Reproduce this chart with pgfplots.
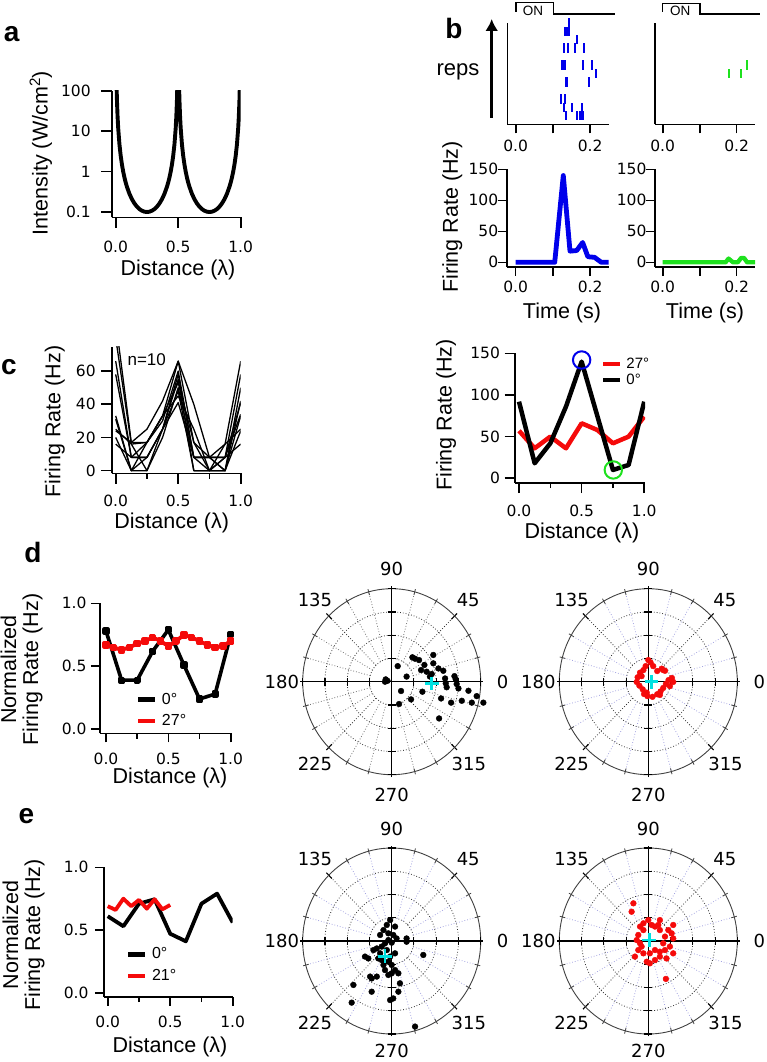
\documentclass[border=0pt]{standalone}
\usepackage{pgfplots}
\pgfplotsset{compat=1.18}
\usepackage{pgfplotstable}
\usepackage{fontspec}
\setmainfont{Liberation Sans}
\newfontfamily\dvs{DejaVu Sans}
\usetikzlibrary{arrows.meta}
\definecolor{pblue}{RGB}{0,0,235}
\definecolor{pgreen}{RGB}{30,225,30}
\definecolor{pred}{RGB}{245,10,10}
\definecolor{pcyan}{RGB}{0,225,225}
\definecolor{plav}{RGB}{165,165,225}
\newcommand\tkf{\dvs\fontsize{15.5}{17}\selectfont}
\newcommand\lbf{\fontsize{21.5}{22}\selectfont}
\newcommand\lgf{\fontsize{16}{17}\selectfont}
\newcommand\pnf{\fontsize{28}{30}\selectfont\bfseries}
\newcommand\plf{\dvs\fontsize{18}{19}\selectfont}

\pgfplotsset{
 igor/.style={
  scale only axis, anchor=south west,
  axis lines=left, axis line style={-, line width=1.6pt},
  tick align=outside, major tick length=9pt, minor tick length=5.5pt,
  tick style={line width=1.6pt, black},
  tick label style={font=\tkf},
  label style={font=\lbf},
  xlabel style={anchor=center},
  ylabel style={anchor=center},
  clip mode=individual,
  every axis plot/.append style={line join=round},
 },
 polar/.style={scale only axis, anchor=south west, width=178pt, height=186pt,
  xmin=-4, xmax=4, ymin=-4, ymax=4, hide axis, clip=false},
}

\newcommand\polargrid[2]{%
 \pgfplotsinvokeforeach{15,30,60,75,105,120,150,165,195,210,240,255,285,300,330,345}{%
   \draw[#1, dotted, line width=0.8pt] (axis cs:{cos(##1)},{sin(##1)}) -- (axis cs:{4*cos(##1)},{4*sin(##1)});
   \draw[black!75, line width=0.8pt] (axis cs:{3.86*cos(##1)},{3.86*sin(##1)}) -- (axis cs:{4.12*cos(##1)},{4.12*sin(##1)});
 }%
 \pgfplotsinvokeforeach{45,135,225,315}{%
   \draw[black!80, dotted, line width=0.8pt] (axis cs:{cos(##1)},{sin(##1)}) -- (axis cs:{4*cos(##1)},{4*sin(##1)});
   \draw[black, line width=1.1pt] (axis cs:{3.8*cos(##1)},{3.8*sin(##1)}) -- (axis cs:{4.15*cos(##1)},{4.15*sin(##1)});
 }%
 \draw[black!80, dotted, line width=0.8pt] (axis cs:0,0) ellipse [x radius=22.25pt, y radius=23.25pt];
 \draw[black!80, dotted, line width=0.8pt] (axis cs:0,0) ellipse [x radius=44.5pt, y radius=46.5pt];
 \draw[black!80, dotted, line width=0.8pt] (axis cs:0,0) ellipse [x radius=66.75pt, y radius=69.75pt];
 \draw[black!75, line width=0.9pt] (axis cs:0,0) ellipse [x radius=89pt, y radius=93pt];
 \draw[black, line width=1.1pt] (axis cs:-4.1,0) -- (axis cs:4.1,0);
 \draw[black, line width=1.1pt] (axis cs:0,-4.1) -- (axis cs:0,4.1);
 \pgfplotsinvokeforeach{-4,-3,-2,-1,1,2,3,4}{%
   \draw[black, line width=1.1pt] (axis cs:##1,-0.17) -- (axis cs:##1,0.17);
   \draw[black, line width=1.1pt] (axis cs:-0.18,##1) -- (axis cs:0.18,##1);
 }%
 \node[font=\plf] at (axis cs:0,4.83) {90};
 \node[font=\plf] at (axis cs:0,#2) {270};
 \node[font=\plf] at (axis cs:-4.94,0) {180};
 \node[font=\plf] at (axis cs:4.99,0) {0};
 \node[font=\plf] at (axis cs:-3.45,3.51) {135};
 \node[font=\plf] at (axis cs:3.44,3.51) {45};
 \node[font=\plf] at (axis cs:-3.45,-3.54) {225};
 \node[font=\plf] at (axis cs:3.47,-3.54) {315};
}

\pgfplotstableread{
x l1 l2 l3 l4 l5 l6 l7 l8 l9 l10
0 90 80 66 58 33 31 25 24 16 20
0.125 17 16 8 8 0 0 16 17 8 0
0.25 25 17 17 8 8 0 0 17 8 17
0.375 42 33 30 25 25 20 25 33 25 33
0.5 66 66 60 58 55 50 48 45 41 53
0.625 40 17 8 8 0 8 0 25 8 17
0.75 8 8 0 8 0 8 0 0 8 0
0.875 16 8 0 0 8 0 16 0 8 8
1.0 66 58 50 42 41 33 25 24 16 34
}\cleft

\pgfplotstableread{
x I
0 1000
0.007 132
0.01 58.2
0.015 22.94
0.02 11.87
0.03 4.707
0.04 2.455
0.05 1.489
0.06 0.996
0.07 0.7126
0.08 0.5364
0.09 0.4200
0.11 0.2817
0.13 0.2069
0.15 0.1628
0.17 0.1355
0.19 0.1182
0.21 0.1076
0.23 0.1018
0.25 0.1
0.27 0.1018
0.29 0.1076
0.31 0.1182
0.33 0.1355
0.35 0.1628
0.37 0.2069
0.39 0.2817
0.41 0.4200
0.42 0.5364
0.43 0.7126
0.44 0.996
0.45 1.489
0.46 2.455
0.47 4.707
0.48 11.87
0.485 22.94
0.49 58.2
0.493 132
0.5 1000
0.507 132
0.51 58.2
0.515 22.94
0.52 11.87
0.53 4.707
0.54 2.455
0.55 1.489
0.56 0.996
0.57 0.7126
0.58 0.5364
0.59 0.4200
0.61 0.2817
0.63 0.2069
0.65 0.1628
0.67 0.1355
0.69 0.1182
0.71 0.1076
0.73 0.1018
0.75 0.1
0.77 0.1018
0.79 0.1076
0.81 0.1182
0.83 0.1355
0.85 0.1628
0.87 0.2069
0.89 0.2817
0.91 0.4200
0.92 0.5364
0.93 0.7126
0.94 0.996
0.95 1.489
0.96 2.455
0.97 4.707
0.98 11.87
0.985 22.94
0.99 58.2
0.993 132
1.0 1000
}\intens

\pgfplotstableread{
t r
0.144 12
0.132 11
0.135 11
0.138 11
0.141 11
0.144 11
0.166 10
0.129 9
0.140 9
0.160 9
0.184 9
0.124 7
0.127 7
0.130 7
0.133 7
0.180 7
0.204 7
0.217 6
0.135 5
0.139 5
0.196 5
0.122 3
0.133 3
0.131 2
0.151 2
0.178 2
0.135 1
0.166 1
0.172 1
0.178 1
0.182 1
}\rasterA

\pgfplotstableread{
t r
0.180 6
0.211 6
0.229 7
}\rasterB

\begin{document}
\begin{tikzpicture}
\path[use as bounding box] (0pt,0pt) rectangle (766pt,-1062pt);

% ---------------- panel a
\begin{axis}[igor, at={(111.7pt,-217.3pt)}, width=129pt, height=126.6pt,
  ymode=log, xmin=-0.032, xmax=1.0, ymin=0.074, ymax=100,
  xtick={0,0.5,1}, xticklabels={0.0,0.5,1.0},
  ytick={0.1,1,10,100}, yticklabels={0.1,1,10,100}, yminorticks=false,
  major tick length=10.5pt,
  xticklabel style={yshift=-10pt}, yticklabel style={xshift=-7pt},
  xlabel={Distance (λ)}, ylabel={Intensity (W/cm\textsuperscript{2})},
  xlabel style={at={(axis description cs:0.514,-0.416)}},
  ylabel style={at={(axis description cs:-0.55,0.508)}},
]
\addplot[black, line width=3.9pt] table[x=x, y=I] {\intens};
\end{axis}

% ---------------- panel b rasters
\begin{axis}[igor, at={(507.3pt,-124.3pt)}, width=102pt, height=101.6pt,
  xmin=-0.0226, xmax=0.2516, ymin=0, ymax=12, clip=false,
  ytick=\empty, xtick={0,0.1,0.2}, xticklabels={0.0,,0.2},
  xticklabel style={yshift=-3pt},
]
\addplot[draw=none, mark=none, forget plot, error bars/.cd, y dir=both, y fixed=0.55,
  error mark=none, error bar style={line width=2pt, pblue}] table[x=t, y=r] {\rasterA};
\end{axis}
\begin{axis}[igor, at={(655pt,-124.3pt)}, width=100pt, height=101.6pt,
  xmin=-0.0208, xmax=0.2495, ymin=0, ymax=12, clip=false,
  ytick=\empty, xtick={0,0.1,0.2}, xticklabels={0.0,,0.2},
  xticklabel style={yshift=-3pt},
]
\addplot[draw=none, mark=none, forget plot, error bars/.cd, y dir=both, y fixed=0.55,
  error mark=none, error bar style={line width=2pt, pgreen}] table[x=t, y=r] {\rasterB};
\end{axis}

% ---------------- panel b PSTH
\begin{axis}[igor, at={(506.7pt,-266.7pt)}, width=102.6pt, height=97.4pt,
  xmin=-0.024, xmax=0.2516, ymin=-7.1, ymax=150,
  xtick={0,0.1,0.2}, xticklabels={0.0,,0.2},
  ytick={0,50,100,150}, yticklabels={0,50,100,150},
  xticklabel style={yshift=-2pt}, yticklabel style={xshift=4pt},
  xlabel={Time (s)}, ylabel={Firing Rate (Hz)},
  xlabel style={at={(axis description cs:0.539,-0.475)}},
  ylabel style={at={(axis description cs:-0.53,0.51)}},
]
\addplot[pblue, line width=4.8pt] coordinates {(0,0) (0.105,0) (0.128,140) (0.146,18) (0.164,19) (0.18,32) (0.194,9) (0.212,8) (0.23,0) (0.25,0)};
\end{axis}
\begin{axis}[igor, at={(655pt,-266.7pt)}, width=100pt, height=97.4pt,
  xmin=-0.0208, xmax=0.2495, ymin=-7.1, ymax=150,
  xtick={0,0.1,0.2}, xticklabels={0.0,,0.2},
  ytick={0,50,100,150}, yticklabels={0,50,100,150},
  xticklabel style={yshift=-2pt}, yticklabel style={xshift=4pt},
  xlabel={Time (s)},
  xlabel style={at={(axis description cs:0.5,-0.475)}},
]
\addplot[pgreen, line width=4.3pt] coordinates {(0,0) (0.17,0) (0.178,6) (0.19,0) (0.203,0) (0.212,7) (0.22,7) (0.228,0) (0.25,0)};
\end{axis}

% ---------------- panel c left
\begin{axis}[igor, at={(111.7pt,-473.3pt)}, width=129pt, height=126.6pt,
  xmin=-0.032, xmax=1.0, ymin=-1.6, ymax=74.7,
  xtick={0,0.5,1}, xticklabels={0.0,0.5,1.0}, minor xtick={0.25,0.75},
  ytick={0,20,40,60}, yticklabels={0,20,40,60},
  major tick length=10.5pt,
  xticklabel style={yshift=-8pt}, yticklabel style={xshift=-2pt},
  xlabel={Distance (λ)}, ylabel={Firing Rate (Hz)},
  xlabel style={at={(axis description cs:0.465,-0.395)}},
  ylabel style={at={(axis description cs:-0.44,0.408)}},
]
\addplot[black, line width=1.3pt] table[x=x, y=l1] {\cleft};
\addplot[black, line width=1.3pt] table[x=x, y=l2] {\cleft};
\addplot[black, line width=1.3pt] table[x=x, y=l3] {\cleft};
\addplot[black, line width=1.3pt] table[x=x, y=l4] {\cleft};
\addplot[black, line width=1.3pt] table[x=x, y=l5] {\cleft};
\addplot[black, line width=1.3pt] table[x=x, y=l6] {\cleft};
\addplot[black, line width=1.3pt] table[x=x, y=l7] {\cleft};
\addplot[black, line width=1.3pt] table[x=x, y=l8] {\cleft};
\addplot[black, line width=1.3pt] table[x=x, y=l9] {\cleft};
\addplot[black, line width=1.3pt] table[x=x, y=l10] {\cleft};
\node[font=\fontsize{17}{19}\selectfont] at (axis cs:0.248,66.7) {n=10};
\end{axis}

% ---------------- panel c right
\begin{axis}[igor, at={(515pt,-482.7pt)}, width=130pt, height=129.4pt,
  xmin=-0.032, xmax=1.006, ymin=-5.3, ymax=150,
  xtick={0,0.5,1}, xticklabels={0.0,0.5,1.0}, minor xtick={0.25,0.75},
  ytick={0,50,100,150}, yticklabels={0,50,100,150},
  major tick length=10.5pt,
  xticklabel style={yshift=-8pt}, yticklabel style={xshift=-1pt},
  xlabel={Distance (λ)}, ylabel={Firing Rate (Hz)},
  xlabel style={at={(axis description cs:0.515,-0.389)}},
  ylabel style={at={(axis description cs:-0.53,0.523)}},
  legend style={at={(axis description cs:0.659,0.96)}, anchor=north west, draw=none, fill=none,
    font=\fontsize{15}{16}\selectfont, inner sep=0pt, row sep=5pt,
    nodes={inner sep=0.5pt, text height=9.5pt, text depth=0.5pt},
    /tikz/every odd column/.style={column sep=4pt}},
  legend cell align=left,
  legend image code/.code={\draw[#1, line width=4.5pt] (0pt,0pt) -- (16.6pt,0pt);},
]
\addplot[pred, line width=4.5pt] coordinates {(0,57) (0.125,36) (0.25,50) (0.375,36) (0.5,66) (0.625,58) (0.75,42) (0.875,50) (1.0,74)};
\addlegendentry{27°}
\addplot[black, line width=4.5pt] coordinates {(0,92) (0.125,18) (0.25,42) (0.375,86) (0.5,140) (0.625,75) (0.75,10) (0.875,16) (1.0,92)};
\addlegendentry{0°}
\addplot[pblue, only marks, mark=o, mark size=8.7pt, mark options={line width=2pt}, forget plot] coordinates {(0.5,142)};
\addplot[pgreen, only marks, mark=o, mark size=8.7pt, mark options={line width=2pt}, forget plot] coordinates {(0.753,10)};
\end{axis}

% ---------------- panel d left
\begin{axis}[igor, at={(100pt,-733.3pt)}, width=130.7pt, height=130pt,
  xmin=-0.048, xmax=1.0, ymin=-0.032, ymax=1.0,
  xtick={0,0.5,1}, xticklabels={0.0,0.5,1.0}, minor xtick={0.25,0.75},
  ytick={0,0.5,1}, yticklabels={0.0,0.5,1.0},
  xticklabel style={yshift=-7pt}, yticklabel style={xshift=-1pt},
  xlabel={Distance (λ)}, ylabel={Normalized\\Firing Rate (Hz)},
  xlabel style={at={(axis description cs:0.536,-0.346)}},
  ylabel style={at={(axis description cs:-0.6,0.49)}, align=center},
  legend style={at={(axis description cs:0.273,0.31)}, anchor=north west, draw=none, fill=none,
    font=\lgf, inner sep=0pt, row sep=8.5pt,
    nodes={inner sep=1pt, text height=10pt, text depth=1pt},
    /tikz/every odd column/.style={column sep=4pt}},
  legend cell align=left,
  legend image code/.code={\draw[#1, line width=4.5pt] (0pt,0pt) -- (16.6pt,0pt);},
]
\addplot[black, line width=3.6pt, mark=square*, mark size=1.8pt] coordinates {(0,0.78) (0.125,0.39) (0.25,0.39) (0.375,0.62) (0.5,0.79) (0.625,0.51) (0.75,0.24) (0.875,0.28) (1.0,0.75)};
\addlegendentry{0°}
\addplot[pred, line width=3.8pt, mark=square*, mark size=1.8pt] coordinates {(0,0.67) (0.0625,0.65) (0.125,0.63) (0.1875,0.65) (0.25,0.68) (0.3125,0.70) (0.375,0.73) (0.4375,0.70) (0.5,0.66) (0.5625,0.70) (0.625,0.75) (0.6875,0.73) (0.75,0.70) (0.8125,0.67) (0.875,0.65) (0.9375,0.66) (1.0,0.70)};
\addlegendentry{27°}
\end{axis}

% ---------------- panel e left
\begin{axis}[igor, at={(104pt,-996.7pt)}, width=128.7pt, height=129.4pt,
  xmin=-0.03, xmax=1.0, ymin=-0.032, ymax=1.0,
  xtick={0,0.5,1}, xticklabels={0.0,0.5,1.0}, minor xtick={0.25,0.75},
  ytick={0,0.5,1}, yticklabels={0.0,0.5,1.0},
  xticklabel style={yshift=-7pt}, yticklabel style={xshift=-3pt},
  xlabel={Distance (λ)}, ylabel={Normalized\\Firing Rate (Hz)},
  xlabel style={at={(axis description cs:0.513,-0.386)}},
  ylabel style={at={(axis description cs:-0.625,0.477)}, align=center},
  legend style={at={(axis description cs:0.169,0.378)}, anchor=north west, draw=none, fill=none,
    font=\lgf, inner sep=0pt, row sep=8.5pt,
    nodes={inner sep=1pt, text height=10pt, text depth=1pt},
    /tikz/every odd column/.style={column sep=4pt}},
  legend cell align=left,
  legend image code/.code={\draw[#1, line width=4.5pt] (0pt,0pt) -- (16.6pt,0pt);},
]
\addplot[black, line width=3.8pt] coordinates {(0,0.61) (0.125,0.53) (0.25,0.71) (0.375,0.745) (0.5,0.47) (0.625,0.41) (0.75,0.71) (0.875,0.79) (1.0,0.56)};
\addlegendentry{0°}
\addplot[pred, line width=3.8pt] coordinates {(0,0.69) (0.0625,0.66) (0.125,0.75) (0.1875,0.69) (0.25,0.74) (0.3125,0.67) (0.375,0.745) (0.4375,0.665) (0.5,0.70)};
\addlegendentry{21°}
\end{axis}

% ---------------- polar d left
\begin{axis}[polar, at={(302.7pt,-774.7pt)}]
\polargrid{black!55}{-4.87}
\addplot[only marks, mark=*, mark size=2.9pt, black] coordinates {
(-0.27,0.10) (-0.19,0.04) (-0.30,0.0) (0.27,0.67) (0.67,0.22) (0.33,-0.96) (0.42,-0.40) (0.87,-0.76)
(0.93,1.05) (1.05,0.99) (1.23,0.93) (1.32,0.50) (1.38,-0.43) (1.47,0.72) (1.57,0.43) (1.80,0.33)
(1.87,1.15) (1.87,0.79) (2.10,0.57) (2.22,-0.72) (2.32,0.47) (2.40,0.14) (2.43,-0.07) (2.47,-0.24)
(2.67,-0.90) (2.82,0.24) (2.88,0.10) (2.92,-0.10) (3.00,-0.29) (3.15,-0.82) (3.45,-0.39) (3.60,-0.90)
(3.82,-0.62) (4.12,-0.90) (2.13,-1.58) (1.72,0.22)};
\addplot[only marks, mark=+, mark size=6.8pt, pcyan, mark options={line width=2.8pt}] coordinates {(1.80,-0.07)};
\end{axis}

% ---------------- polar d right
\begin{axis}[polar, at={(559.3pt,-774.7pt)}]
\polargrid{plav}{-4.87}
\addplot[only marks, mark=*, mark size=2.9pt, pred] coordinates {
(0,0.93) (0.10,0.83) (0.22,0.67) (-0.22,0.50) (-0.37,0.39) (-0.48,0.19) (-0.52,-0.01) (-0.40,-0.17)
(-0.25,-0.33) (-0.19,-0.53) (-0.04,-0.62) (0.19,-0.65) (0.40,-0.54) (0.55,-0.42) (0.67,-0.27) (0.79,-0.10)
(0.91,0.07) (1.06,0.16) (1.12,-0.01) (0.97,-0.19) (0.75,0.47) (0.60,0.56) (0.40,0.46) (-0.30,0.24)
(-0.12,0.67) (0.52,-0.57) (-0.07,-0.47) (0.67,0.50)};
\addplot[only marks, mark=+, mark size=6.8pt, pcyan, mark options={line width=2.8pt}] coordinates {(0.15,0.0)};
\end{axis}

% ---------------- polar e left
\begin{axis}[polar, at={(302.7pt,-1034pt)}]
\polargrid{plav}{-4.74}
\addplot[only marks, mark=*, mark size=2.9pt, black] coordinates {
(-0.07,0.90) (-0.22,0.69) (0.15,0.62) (-0.37,0.47) (-0.52,0.26) (-0.15,0.33) (0.07,0.26) (0.22,0.11)
(-0.15,0.04) (0,-0.07) (-0.30,-0.10) (-0.45,-0.24) (-0.67,-0.32) (-0.82,-0.39) (-1.20,-0.67) (-1.05,-0.75)
(-0.60,-0.75) (-0.45,-0.82) (-0.15,-0.89) (-0.37,-1.03) (0,-1.03) (0.15,-1.25) (0,-1.39) (-0.15,-1.46)
(-0.67,-1.53) (0.30,-1.39) (0.67,0.11) (0.67,-0.03) (1.42,-0.60) (-0.97,-1.53) (-0.90,-1.61) (-1.72,-1.89)
(-0.90,-2.18) (-1.80,-2.65) (0.07,-2.47) (-0.07,-2.54) (0.30,-2.18) (0.37,-1.82) (1.05,-3.68) (-0.22,-0.39)
(-0.52,-0.53) (-0.07,-0.67) (0.15,-0.53) (-0.30,-1.25)};
\addplot[only marks, mark=+, mark size=6.8pt, pcyan, mark options={line width=2.8pt}] coordinates {(-0.30,-0.65)};
\end{axis}

% ---------------- polar e right
\begin{axis}[polar, at={(559.3pt,-1034pt)}]
\polargrid{plav}{-4.74}
\addplot[only marks, mark=*, mark size=2.9pt, pred] coordinates {
(-0.67,1.62) (-0.75,1.26) (0,0.90) (0.52,0.90) (1.12,0.69) (-0.37,0.62) (0.15,0.69) (0.30,0.62)
(-0.22,0.47) (-0.45,0.26) (-0.52,0.04) (-0.37,-0.10) (-0.30,-0.24) (-0.45,-0.39) (-0.60,-0.67) (-0.22,-0.53)
(0.07,-0.53) (0.30,-0.39) (0.52,-0.46) (0.75,-0.39) (0.97,-0.24) (1.12,0.11) (1.05,0.33) (0.75,0.19)
(0.52,0.47) (0.90,0.47) (0.07,-0.96) (-0.07,-0.89) (0.30,-0.82) (0.52,-0.67) (0.82,-0.75) (1.12,-0.53)
(0.79,-1.63) (-0.22,0.76) (0.45,0.69) (0.67,-0.10)};
\addplot[only marks, mark=+, mark size=6.8pt, pcyan, mark options={line width=2.8pt}] coordinates {(0.04,0.04)};
\end{axis}

% ---------------- decorations panel b
\draw[black, line width=1.3pt] (516pt,-11.7pt) -- (516pt,-2.7pt) -- (553.3pt,-2.7pt) -- (553.3pt,-14pt) -- (615pt,-14pt);
\draw[black, line width=1.3pt] (662.7pt,-11.7pt) -- (662.7pt,-3.3pt) -- (700pt,-3.3pt) -- (700pt,-14pt) -- (760pt,-14pt);
\node[font=\fontsize{13.5}{15}\selectfont] at (533pt,-11.3pt) {ON};
\node[font=\fontsize{13.5}{15}\selectfont] at (680.3pt,-11.3pt) {ON};
\draw[black, line width=3.2pt, -{Latex[length=12pt, width=13pt]}] (491.7pt,-118pt) -- (491.7pt,-19pt);
\node[font=\fontsize{22}{24}\selectfont] at (458pt,-71.7pt) {reps};

% ---------------- panel letters
\node[font=\pnf] at (11.7pt,-34pt) {a};
\node[font=\pnf] at (454pt,-28pt) {b};
\node[font=\pnf] at (9pt,-367.5pt) {c};
\node[font=\pnf] at (33pt,-552pt) {d};
\node[font=\pnf] at (26.5pt,-816pt) {e};
\end{tikzpicture}
\end{document}
